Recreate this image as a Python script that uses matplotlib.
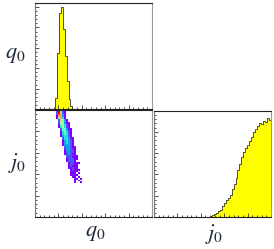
import numpy as np
import matplotlib
matplotlib.use("Agg")
import matplotlib.pyplot as plt
from matplotlib.ticker import MultipleLocator

plt.rcParams['mathtext.fontset'] = 'stix'

# ---- data ----
q0_edges_start = 0.17
bin_w = 1.0 / 60
q0_hist = [0.11, 0.55, 0.94, 1.0, 0.78, 0.52, 0.27, 0.10, 0.03]

j0_edges_start = 0.48
j0_hist = [0.005, 0.015, 0.025, 0.04, 0.055, 0.07, 0.10, 0.13, 0.155, 0.18,
           0.21, 0.26, 0.31, 0.37, 0.44, 0.50, 0.56, 0.61, 0.65, 0.68,
           0.71, 0.75, 0.80, 0.83, 0.85, 0.88, 0.87, 0.90, 0.89, 0.93, 0.91]

# 2D histogram rows, from top (j0 bin 59) downward: (start q0 bin, counts)
row_starts = [11, 11, 11, 11, 11, 12, 12, 12, 12, 12, 13, 13, 13, 13, 13, 14, 14, 14, 14, 14,
              15, 15, 15, 15, 15, 16, 16, 16, 16, 17, 17, 17, 17, 18, 18, 18, 18, 19, 19, 20, 19]
row_counts = [
    [2, 10, 6, 2, 1], [2, 10, 7, 2, 1], [2, 9, 8, 3, 1], [1, 8, 8, 3, 1], [1, 6, 8, 4, 1],
    [2, 7, 6, 3, 1], [2, 7, 6, 3, 1], [2, 6, 6, 3, 1, 1], [1, 5, 6, 4, 2, 1], [1, 4, 6, 4, 2, 1],
    [2, 5, 5, 3, 1, 1], [2, 5, 5, 3, 2, 1], [1, 4, 5, 4, 2, 1], [1, 4, 5, 4, 2, 1], [1, 3, 4, 4, 2, 1],
    [2, 4, 4, 3, 1, 1], [2, 4, 4, 3, 2, 1], [1, 3, 4, 3, 2, 1], [1, 3, 4, 3, 2, 1], [1, 3, 3, 3, 2, 1],
    [2, 3, 3, 2, 1, 1], [2, 3, 3, 2, 1, 1], [1, 3, 3, 2, 2, 1], [1, 2, 3, 2, 2, 1], [1, 2, 3, 2, 1, 1],
    [2, 2, 2, 2, 1, 1], [2, 2, 2, 1, 1, 1], [1, 2, 2, 2, 1, 1], [1, 2, 2, 2, 1],
    [1, 2, 2, 1, 1, 1], [1, 2, 2, 1, 1], [1, 2, 1, 1, 1], [1, 1, 2, 1, 1],
    [1, 2, 1, 1, 1], [1, 1, 1, 1], [1, 1, 1, 0, 1], [1, 1, 1, 1],
    [1, 1, 0, 1], [0, 1, 1, 0, 1], [1, 0, 1], [0, 1, 0, 0, 1]]

labels = {'q': r'$q_0$', 'j': r'$j_0$'}

# ---- figure ----
W, H = 274, 249
fig = plt.figure(figsize=(W / 100, H / 100), dpi=100)

def rect(x0, y0, x1, y1):
    return [x0 / W, 1 - y1 / H, (x1 - x0) / W, (y1 - y0) / H]

ax_q = fig.add_axes(rect(35, 3, 152, 109))
ax_qj = fig.add_axes(rect(35, 110, 152, 217))
ax_j = fig.add_axes(rect(154, 111, 271, 217))

def style(ax):
    ax.set_xlim(0, 1)
    ax.xaxis.set_major_locator(MultipleLocator(0.2))
    ax.xaxis.set_minor_locator(MultipleLocator(0.04))
    ax.yaxis.set_major_locator(MultipleLocator(0.2))
    ax.yaxis.set_minor_locator(MultipleLocator(0.04))
    ax.tick_params(which='both', direction='in', labelbottom=False, labelleft=False,
                   top=False, right=False, color='#333333', width=0.6)
    ax.tick_params(which='major', length=3)
    ax.tick_params(which='minor', length=1.6)
    for s in ax.spines.values():
        s.set_linewidth(0.8)
        s.set_color('#222222')
    ax.spines['left'].set_color('#777777')
    ax.spines['right'].set_color('#999999')

def step_hist(ax, start, vals):
    edges = start + bin_w * np.arange(len(vals) + 1)
    ax.stairs(vals, edges, fill=True, color='#ffff00')
    ax.stairs(vals, edges, color='#333333', linewidth=0.6)

step_hist(ax_q, q0_edges_start, q0_hist)
style(ax_q)
ax_q.set_ylim(0, 1.04)

step_hist(ax_j, j0_edges_start, j0_hist)
style(ax_j)
ax_j.set_ylim(0, 0.995)

# 2D density
grid = np.zeros((60, 60))
for r, (s, cnts) in enumerate(zip(row_starts, row_counts)):
    jb = 59 - r
    for k, c in enumerate(cnts):
        grid[jb, s + k] = c
masked = np.ma.masked_where(grid <= 0, grid)
edges = np.linspace(0, 1, 61)
ax_qj.pcolormesh(edges, edges, masked, cmap='rainbow', vmin=1, vmax=10)
style(ax_qj)
ax_qj.set_ylim(0, 1)

tc = '#1f2a38'
fig.text(15 / W, 1 - 55 / H, labels['q'], fontsize=16, color=tc, ha='center', va='center')
fig.text(17 / W, 1 - 163 / H, labels['j'], fontsize=16, color=tc, ha='center', va='center')
fig.text(95 / W, 1 - 233 / H, labels['q'], fontsize=16, color=tc, ha='center', va='center')
fig.text(214 / W, 1 - 234 / H, labels['j'], fontsize=16, color=tc, ha='center', va='center')

fig.savefig('out.png', dpi=100)
